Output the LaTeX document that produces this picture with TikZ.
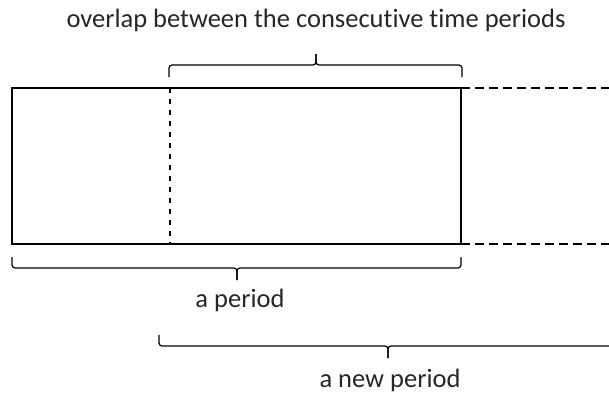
\documentclass[tikz,border=0pt]{standalone}
\usepackage{fontspec}
\setmainfont{Carlito}[RawFeature=-liga]
\usepackage{tikz}

\begin{document}
\begin{tikzpicture}[
    x=1pt, y=-1pt,
    box/.style={draw, line width=1.3pt},
    cut/.style={draw, line width=1.2pt, dash pattern=on 5pt off 6pt},
    ext/.style={draw, line width=1.2pt, dash pattern=on 9pt off 5pt},
    brace/.style={draw, line width=1.2pt, rounded corners=3pt},
    lbl/.style={font=\fontsize{26.5}{30}\selectfont, inner sep=0pt, text=black!85}
]
    \clip (0,0) rectangle (609,394);

    % Coordinates
    \coordinate (tl) at (12,88);
    \coordinate (br) at (461,244);
    \coordinate (cuttop) at (170,88);
    \coordinate (cutbot) at (170,244);
    \coordinate (extop) at (609,88);
    \coordinate (exbot) at (609,244);

    % Nodes
    \node [lbl] (overlap) at (316,20) {overlap between the consecutive time periods};
    \node [lbl] (period) at (240,300) {a period};
    \node [lbl] (newperiod) at (390,380) {a new period};

    % Period box
    \path [box] (tl) rectangle (br);
    \path [cut] (cuttop) -- (cutbot);
    \path [ext] (br |- tl) -- (extop);
    \path [ext] (br) -- (exbot);

    % Braces
    \path [brace] (169,77) |- (316,65) -- (316,54);
    \path [brace] (462,77) |- (316,65) -- (316,54);
    \path [brace] (12,257) |- (237,268) -- (237,280);
    \path [brace] (461,257) |- (237,268) -- (237,280);
    \path [brace] (159,335) |- (388,346) -- (388,358);
    \path [brace] (617,335) |- (388,346) -- (388,358);
\end{tikzpicture}
\end{document}
